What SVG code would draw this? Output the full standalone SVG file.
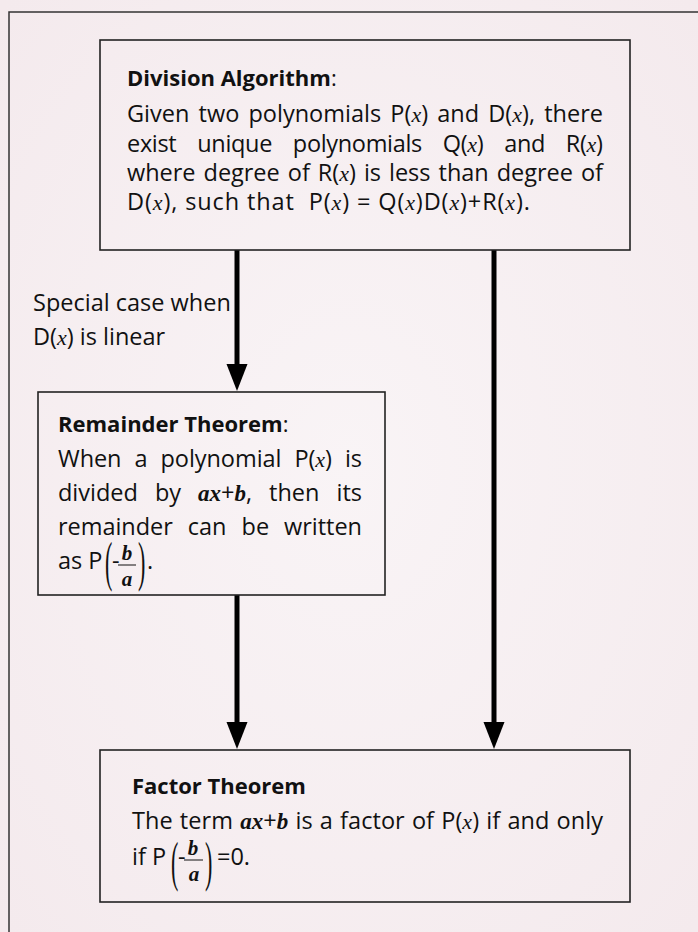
<svg xmlns="http://www.w3.org/2000/svg" width="698" height="932" viewBox="0 0 698 932">
<defs>
<style>
.t{font-family:"Open Sans","Noto Sans","Liberation Sans",sans-serif;font-size:23.5px;fill:#111}
.h{font-family:"Open Sans","Noto Sans","Liberation Sans",sans-serif;font-size:22px;font-weight:bold;fill:#111}
.m{font-family:"Liberation Serif","DejaVu Serif",serif;font-style:italic;font-size:22px}
.mb{font-family:"Liberation Serif","DejaVu Serif",serif;font-style:italic;font-weight:bold;font-size:23px}
.fr{font-family:"Liberation Serif","DejaVu Serif",serif;font-style:italic;font-weight:bold;font-size:21px;fill:#111}
.box{fill:none;stroke:#222;stroke-width:1.6}
.conn{stroke:#000;stroke-width:5;fill:none}
.head{fill:#000}
.par{font-family:"Liberation Serif",serif;font-size:22px;fill:#111}
</style>
<radialGradient id="bg" cx="0.5" cy="0.5" r="0.7">
<stop offset="0" stop-color="#f9f4f6"/>
<stop offset="1" stop-color="#f4eaed"/>
</radialGradient>
</defs>
<rect x="0" y="0" width="698" height="932" fill="url(#bg)"/>
<rect x="9" y="12" width="700" height="930" fill="none" stroke="#333" stroke-width="1.5"/>

<g id="connectors">
<line class="conn" x1="237" y1="250" x2="237" y2="364"/>
<path class="head" d="M226.5,364 L247.5,364 L237,391 Z"/>
<line class="conn" x1="237" y1="595" x2="237" y2="722"/>
<path class="head" d="M226.5,722 L247.5,722 L237,749 Z"/>
<line class="conn" x1="494" y1="250" x2="494" y2="722"/>
<path class="head" d="M483.5,722 L504.5,722 L494,749 Z"/>
</g>

<g id="label-special">
<text class="t" x="33" y="311">Special case when</text>
<text class="t" x="33" y="345">D(<tspan class="m">x</tspan>) is linear</text>
</g>

<g id="division">
<rect class="box" x="100" y="40" width="530" height="210"/>
<text class="h" x="127" y="86">Division Algorithm<tspan font-weight="normal">:</tspan></text>
<text class="t" x="127" y="122" word-spacing="3" textLength="476" lengthAdjust="spacing">Given two polynomials P(<tspan class="m">x</tspan>) and D(<tspan class="m">x</tspan>), there</text>
<text class="t" x="127" y="152" word-spacing="15" textLength="476" lengthAdjust="spacing">exist unique polynomials Q(<tspan class="m">x</tspan>) and R(<tspan class="m">x</tspan>)</text>
<text class="t" x="127" y="181" word-spacing="2" textLength="476" lengthAdjust="spacing">where degree of R(<tspan class="m">x</tspan>) is less than degree of</text>
<text class="t" x="127" y="210" xml:space="preserve" textLength="403" lengthAdjust="spacing">D(<tspan class="m">x</tspan>), such that  P(<tspan class="m">x</tspan>) = Q(<tspan class="m">x</tspan>)D(<tspan class="m">x</tspan>)+R(<tspan class="m">x</tspan>).</text>
</g>

<g id="remainder">
<rect class="box" x="38" y="392" width="347" height="203"/>
<text class="h" x="58" y="432">Remainder Theorem<tspan font-weight="normal">:</tspan></text>
<text class="t" x="58" y="467" word-spacing="7" textLength="304" lengthAdjust="spacing">When a polynomial P(<tspan class="m">x</tspan>) is</text>
<text class="t" x="58" y="501" word-spacing="11" textLength="304" lengthAdjust="spacing">divided by <tspan class="mb">ax</tspan>+<tspan class="mb">b</tspan>, then its</text>
<text class="t" x="58" y="535" word-spacing="9" textLength="304" lengthAdjust="spacing">remainder can be written</text>
<text class="t" x="58" y="569">as P</text>
<text class="par" transform="translate(105,580) scale(1,2.5)">(</text>
<text class="t" x="112" y="569">-</text>
<text class="fr" x="127" y="560" text-anchor="middle">b</text>
<line x1="118" y1="565" x2="136" y2="565" stroke="#111" stroke-width="1"/>
<text class="fr" x="127" y="586" text-anchor="middle">a</text>
<text class="par" transform="translate(138,580) scale(1,2.5)">)</text>
<text class="t" x="147" y="569">.</text>
</g>

<g id="factor">
<rect class="box" x="100" y="750" width="530" height="152"/>
<text class="h" x="132" y="794">Factor Theorem</text>
<text class="t" x="132" y="829" word-spacing="1" textLength="471" lengthAdjust="spacing">The term <tspan class="mb">ax</tspan>+<tspan class="mb">b</tspan> is a factor of P(<tspan class="m">x</tspan>) if and only</text>
<text class="t" x="132" y="865">if P</text>
<text class="par" transform="translate(171,880) scale(1,2.5)">(</text>
<text class="t" x="178" y="865">-</text>
<text class="fr" x="193" y="855" text-anchor="middle">b</text>
<line x1="184" y1="860" x2="203" y2="860" stroke="#111" stroke-width="1"/>
<text class="fr" x="194" y="881" text-anchor="middle">a</text>
<text class="par" transform="translate(205,880) scale(1,2.5)">)</text>
<text class="t" x="217" y="865">=0.</text>
</g>
</svg>
